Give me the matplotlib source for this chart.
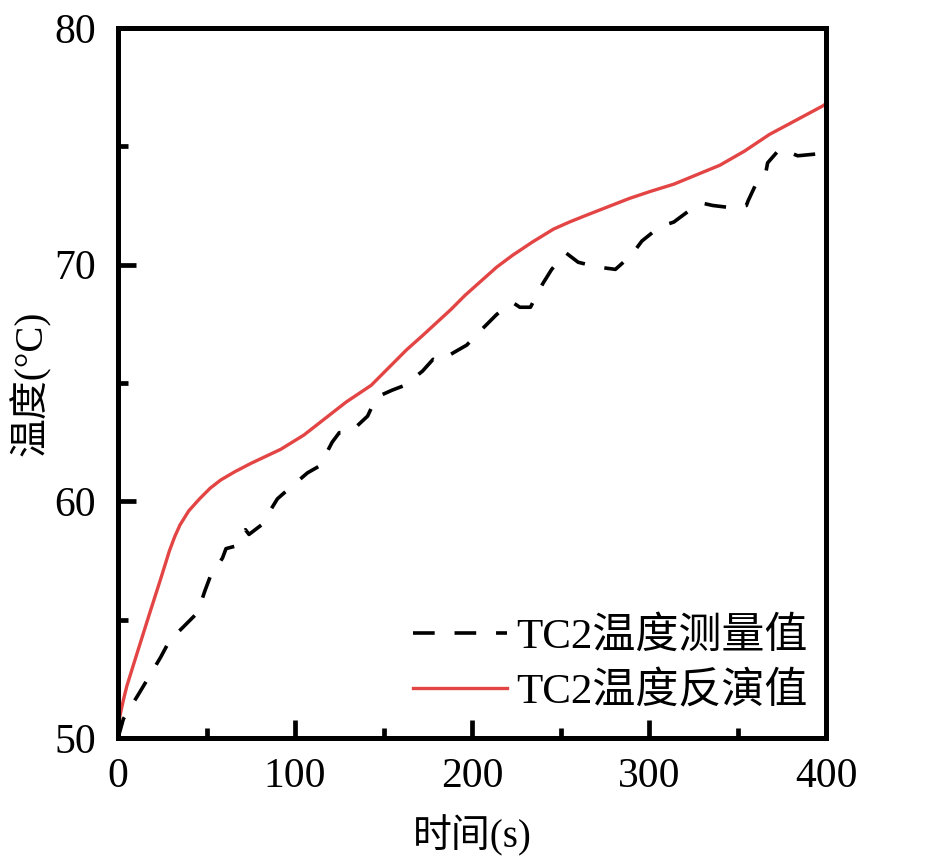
import numpy as np
import matplotlib.pyplot as plt
from matplotlib.ticker import MultipleLocator

plt.rcParams['font.family'] = ['Liberation Serif', 'Noto Sans CJK SC']
plt.rcParams['axes.unicode_minus'] = False

# measured values (dashed black)
t_meas = [0, 3, 12, 24, 29, 37, 45, 49, 52, 59, 61, 66, 72, 74, 81, 90, 93,
          107, 114, 121, 125, 131, 141, 146, 155, 162, 172, 178, 181, 190,
          197, 206, 214, 223, 227, 233, 240, 245, 253, 260, 271, 281, 290,
          296, 306, 314, 323, 330, 336, 347, 355, 356, 361, 366, 367, 374,
          384, 398, 400]
T_meas = [50.0, 50.8, 51.9, 53.4, 54.1, 54.7, 55.3, 56.2, 56.8, 57.6, 58.0,
          58.1, 58.8, 58.6, 59.0, 60.1, 60.3, 61.2, 61.5, 62.5, 62.9, 62.9,
          63.6, 64.4, 64.7, 64.9, 65.5, 66.0, 65.9, 66.3, 66.6, 67.3, 67.9,
          68.4, 68.2, 68.2, 69.2, 69.8, 70.5, 70.1, 69.9, 69.8, 70.4, 71.0,
          71.6, 71.8, 72.3, 72.6, 72.5, 72.4, 72.5, 72.7, 73.5, 73.9, 74.3,
          74.9, 74.6, 74.7, 74.7]

# inversion values (solid red)
t_inv = [0, 1, 3, 5, 10, 18, 24, 29, 32, 35, 40, 46, 52, 58, 66, 75, 92,
         105, 117, 129, 143, 155, 163, 172, 180, 188, 196, 205, 214, 223,
         234, 246, 255, 265, 277, 289, 301, 314, 327, 340, 354, 368, 383,
         398, 400]
T_inv = [50.25, 50.9, 51.6, 52.2, 53.4, 55.3, 56.7, 57.9, 58.5, 59.0, 59.6,
         60.1, 60.55, 60.9, 61.25, 61.6, 62.2, 62.8, 63.5, 64.2, 64.9, 65.8,
         66.4, 67.0, 67.55, 68.1, 68.7, 69.3, 69.9, 70.4, 70.95, 71.5, 71.8,
         72.1, 72.45, 72.8, 73.1, 73.4, 73.8, 74.2, 74.8, 75.5, 76.1, 76.7,
         76.8]

fig = plt.figure(figsize=(9.45, 8.61), dpi=100)
ax = fig.add_axes([0.1249, 0.1429, 0.7492, 0.8246])

ax.plot(t_meas, T_meas, color='black', linewidth=2.6, dashes=(6, 5.5),
        label='TC2温度测量值')
ax.plot(t_inv, T_inv, color='#e34444', linewidth=2.4,
        label='TC2温度反演值')

ax.set_xlim(0, 400)
ax.set_ylim(50, 80)
ax.xaxis.set_major_locator(MultipleLocator(100))
ax.xaxis.set_minor_locator(MultipleLocator(50))
ax.yaxis.set_major_locator(MultipleLocator(10))
ax.yaxis.set_minor_locator(MultipleLocator(5))

for s in ax.spines.values():
    s.set_linewidth(3.6)
ax.tick_params(which='major', direction='in', length=13, width=3.4,
               labelsize=30, pad=14)
ax.tick_params(which='minor', direction='in', length=7, width=3.4)
ax.tick_params(axis='y', pad=16)

ax.set_xlabel('时间(s)', fontsize=28, labelpad=14)
ax.set_ylabel('温度(°C)', fontsize=28, labelpad=2)

ax.legend(loc='lower right', frameon=False, fontsize=31, handlelength=2.2,
          handletextpad=0.2, labelspacing=0.35, borderaxespad=0.2,
          bbox_to_anchor=(1.01, 0.0))

fig.savefig('out.png', dpi=100)
